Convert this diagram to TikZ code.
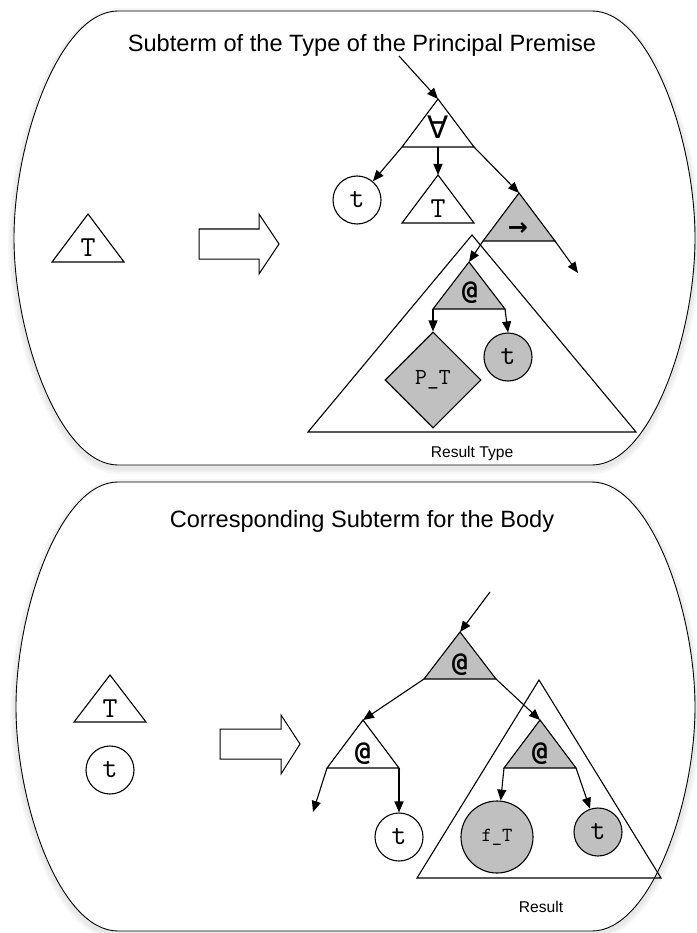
\documentclass[tikz,border=0pt]{standalone}
\usepackage{fontspec}
\setmainfont{Liberation Sans}
\newfontfamily\dvsans{DejaVu Sans}
\newfontfamily\dvmono{DejaVu Sans Mono}
\usetikzlibrary{shapes.geometric,arrows.meta,calc}
\definecolor{nodegray}{RGB}{192,192,192}

\tikzset{
  conn/.style={line width=1.1pt,-{Triangle[length=11pt,width=9pt]}},
  panel/.style={line width=0.9pt},
  panelshadow/.style={line width=#1,black,opacity=0.03},
  blockarrow/.style={line width=1pt,line join=miter,fill=white},
  var/.style={circle,draw,line width=1.1pt,minimum size=48pt,inner sep=0pt,
    font=\ttfamily\fontsize{29}{29}\selectfont},
  shaded/.style={fill=nodegray},
  mono/.style={inner sep=0pt,font=\ttfamily\fontsize{29}{29}\selectfont},
  opsym/.style={inner sep=0pt,font=\dvsans\fontsize{31}{31}\selectfont},
  arrsym/.style={inner sep=0pt,font=\dvsans\bfseries\fontsize{24}{24}\selectfont},
  appsym/.style={inner sep=0pt,font=\dvmono\bfseries\fontsize{26}{26}\selectfont},
  title/.style={inner sep=0pt,anchor=base,font=\fontsize{23.6}{28}\selectfont},
  caption/.style={inner sep=0pt,anchor=base,font=\fontsize{15.6}{18}\selectfont},
  pics/tri/.style args={#1/#2}{code={
    \coordinate (-apex) at (0,0);
    \coordinate (-bl) at (-#1,#2);
    \coordinate (-br) at (#1,#2);
    \coordinate (-bc) at (0,#2);
    \draw[line width=1.1pt,line join=miter,pic actions] (-apex) -- (-bl) -- (-br) -- cycle;
  }},
}

\begin{document}
\begin{tikzpicture}[x=1pt,y=-1pt]
\useasboundingbox (0,0) rectangle (696,933);

% ---------- soft shadows of the two panels ----------
\begin{scope}[shift={(0,3)}]
  \foreach \w in {12pt,8pt,4pt}{
    \draw[panelshadow=\w] (118,11) -- (592,11) .. controls (650,11) and (695,140) .. (695,238)
      .. controls (695,336) and (650,465) .. (592,465) -- (118,465)
      .. controls (60,465) and (14,336) .. (14,238) .. controls (14,140) and (60,11) .. cycle;
    \draw[panelshadow=\w] (118,482) -- (592,482) .. controls (650,482) and (695,610) .. (695,707)
      .. controls (695,804) and (650,931) .. (592,931) -- (118,931)
      .. controls (60,931) and (16,804) .. (16,707) .. controls (16,610) and (60,482) .. cycle;
  }
\end{scope}

% ---------- panels ----------
\draw[panel,fill=white] (118,11) -- (592,11) .. controls (650,11) and (695,140) .. (695,238)
  .. controls (695,336) and (650,465) .. (592,465) -- (118,465)
  .. controls (60,465) and (14,336) .. (14,238) .. controls (14,140) and (60,11) .. cycle;
\draw[panel,fill=white] (118,482) -- (592,482) .. controls (650,482) and (695,610) .. (695,707)
  .. controls (695,804) and (650,931) .. (592,931) -- (118,931)
  .. controls (60,931) and (16,804) .. (16,707) .. controls (16,610) and (60,482) .. cycle;

\node[title] (title1) at (362,52) {Subterm of the Type of the Principal Premise};
\node[title] (title2) at (362,527) {Corresponding Subterm for the Body};

% =================== upper panel ===================
% pattern on the left
\pic (lT) at (88,214) {tri=36/48};
\node[mono] (lTl) at (88,248) {T};

% transformation arrow
\draw[blockarrow] (199,229) -- (259,229) -- (259,214) -- (279,244) -- (259,274)
  -- (259,259) -- (199,259) -- cycle;

% result type subtree
\pic (rt) at (472,235) {tri=164/197};
\node[caption] (rtl) at (472,457) {Result Type};

% forall node and its children
\coordinate (inTop) at (399,56);
\pic (fa) at (438,99) {tri=36/48};
\node[opsym] (fal) at (438,127) {∀};
\node[var] (tv) at (357,200) {t};
\pic (mT) at (438,175) {tri=36/48};
\node[mono] (mTl) at (438,209) {T};
\pic[shaded] (ar) at (519,193) {tri=36/48};
\node[arrsym] (arl) at (518,229) {→};
\coordinate (arOut) at (578,273);

% application inside the result type
\pic[shaded] (ap) at (469,262) {tri=36/47};
\node[appsym] (apl) at (470,293) {@};
\node[diamond,draw,shaded,line width=1.1pt,minimum width=96pt,minimum height=96pt,
      inner sep=0pt,font=\ttfamily\fontsize{23}{23}\selectfont] (pt) at (433,380) {P\_T};
\node[var,shaded] (tg) at (508,357) {t};

\draw[conn] (inTop) -- (fa-apex);
\draw[conn] (fa-bl) -- (tv);
\draw[conn] (fa-bc) -- (mT-apex);
\draw[conn] (fa-br) -- (ar-apex);
\draw[conn] (ar-bl) -- (ap-apex);
\draw[conn] (ar-br) -- (arOut);
\draw[conn] (ap-bl) -- (pt.north);
\draw[conn] (ap-br) -- (tg.north);

% =================== lower panel ===================
\pic (bT) at (110,675) {tri=36/47};
\node[mono] (bTl) at (110,709) {T};
\node[var] (bt) at (110,770) {t};

\draw[blockarrow] (220,729) -- (281,729) -- (281,715) -- (300,744) -- (281,774)
  -- (281,759) -- (220,759) -- cycle;

% result subtree
\pic (rs) at (539,680) {tri=122/198};
\node[caption] (rsl) at (541,912) {Result};

\coordinate (inBot) at (490,592);
\pic[shaded] (ba) at (460,632) {tri=36/47};
\node[appsym] (bal) at (460,665) {@};
\pic (wa) at (363,720) {tri=36/48};
\node[appsym] (wal) at (363,754) {@};
\pic[shaded] (ga) at (540,720) {tri=36/48};
\node[appsym] (gal) at (540,754) {@};
\coordinate (waOut) at (313,812);
\node[var] (tw) at (399,837) {t};
\node[var,shaded,minimum size=72pt,font=\ttfamily\fontsize{20}{20}\selectfont] (ft) at (497,837) {f\_T};
\node[var,shaded] (tg2) at (598,832) {t};

\draw[conn] (inBot) -- (ba-apex);
\draw[conn] (ba-bl) -- (wa-apex);
\draw[conn] (ba-br) -- (ga-apex);
\draw[conn] (wa-bl) -- (waOut);
\draw[conn] (wa-br) -- (tw.north);
\draw[conn] (ga-bl) -- (ft);
\draw[conn] (ga-br) -- (tg2);
\end{tikzpicture}
\end{document}
